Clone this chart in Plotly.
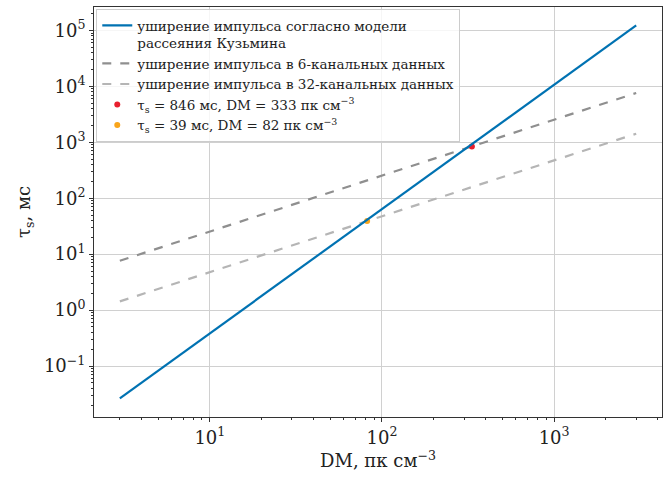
import plotly.graph_objects as go

# Data
dm_line = [3, 3000]
tau_kuzmin = [0.0264, 1.23e5]
tau_6ch = [7.62, 7620]
tau_32ch = [1.43, 1427]
pt1_dm, pt1_tau = [333], [846]
pt2_dm, pt2_tau = [82], [39]

x_tickvals = [10, 100, 1000]
x_ticktext = ["10<sup>1</sup>", "10<sup>2</sup>", "10<sup>3</sup>"]
y_tickvals = [0.1, 1, 10, 100, 1000, 10000, 100000]
y_ticktext = ["10<sup>−1</sup>", "10<sup>0</sup>", "10<sup>1</sup>", "10<sup>2</sup>",
              "10<sup>3</sup>", "10<sup>4</sup>", "10<sup>5</sup>"]

names = [
    "уширение импульса согласно модели<br>рассеяния Кузьмина",
    "уширение импульса в 6-канальных данных",
    "уширение импульса в 32-канальных данных",
    "τ<sub>s</sub> = 846 мс, DM = 333 пк см<sup>−3</sup>",
    "τ<sub>s</sub> = 39 мс, DM = 82 пк см<sup>−3</sup>",
]

FONT = "DejaVu Serif"

def minor_vals(lo, hi):
    out = []
    for e in range(lo, hi + 1):
        for m in range(2, 10):
            out.append(m * 10.0 ** e)
    return out

fig = go.Figure()
fig.add_trace(go.Scatter(x=dm_line, y=tau_6ch, mode="lines", name=names[1],
                         line=dict(color="#8f8f8f", width=2.2, dash="dash"), legendrank=2))
fig.add_trace(go.Scatter(x=dm_line, y=tau_32ch, mode="lines", name=names[2],
                         line=dict(color="#b5b5b5", width=2.2, dash="dash"), legendrank=3))
fig.add_trace(go.Scatter(x=pt1_dm, y=pt1_tau, mode="markers", name=names[3],
                         marker=dict(color="#e8202e", size=6), legendrank=4))
fig.add_trace(go.Scatter(x=pt2_dm, y=pt2_tau, mode="markers", name=names[4],
                         marker=dict(color="#f9a51b", size=6), legendrank=5))
fig.add_trace(go.Scatter(x=dm_line, y=tau_kuzmin, mode="lines", name=names[0],
                         line=dict(color="#0072b2", width=2.2), legendrank=1))

axis_common = dict(
    type="log", automargin=False,
    showgrid=True, gridcolor="#d0d0d0", gridwidth=1,
    showline=True, linecolor="#333333", linewidth=1, mirror=True,
    ticks="outside", ticklen=4, tickcolor="#333333",
    tickmode="array",
    tickfont=dict(family=FONT, size=18, color="#222222"),
    zeroline=False,
)

fig.update_xaxes(**axis_common, range=[0.327, 3.627],
                 tickvals=x_tickvals, ticktext=x_ticktext,
                 minor=dict(tickmode="array", tickvals=minor_vals(0, 3), ticks="outside",
                            ticklen=2, tickcolor="#333333", showgrid=False),
                 title=dict(text="DM, пк см<sup>−3</sup>", font=dict(family=FONT, size=18, color="#222222"), standoff=4))
fig.update_yaxes(**axis_common, range=[-1.912, 5.42],
                 tickvals=y_tickvals, ticktext=y_ticktext,
                 minor=dict(tickmode="array", tickvals=minor_vals(-2, 5), ticks="outside",
                            ticklen=2, tickcolor="#333333", showgrid=False),
                 title=dict(text="τ<sub>s</sub>, мс", font=dict(family=FONT, size=18, color="#222222"), standoff=8))

fig.update_layout(
    width=670, height=495,
    margin=dict(l=94, r=8, t=7, b=78),
    paper_bgcolor="white", plot_bgcolor="white",
    showlegend=True,
    legend=dict(
        x=0.004, y=0.995, xanchor="left", yanchor="top",
        bgcolor="rgba(255,255,255,0.8)", bordercolor="#cccccc", borderwidth=1,
        font=dict(family=FONT, size=13.5, color="#222222"),
        valign="top", tracegroupgap=0, itemwidth=30,
    ),
)

fig.write_html("out.html", config={"displayModeBar": False},
               post_script="document.body.style.margin='0';")
